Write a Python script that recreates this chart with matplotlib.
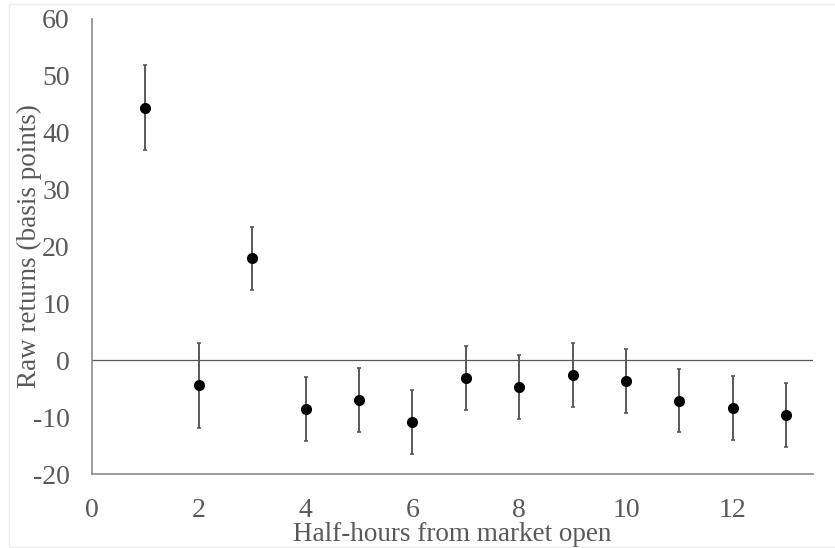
import matplotlib
matplotlib.use('Agg')
import matplotlib.pyplot as plt
from matplotlib.patches import Rectangle

# half-hour intervals after the open, mean raw return and error half-width (bp)
halfhours = [1, 2, 3, 4, 5, 6, 7, 8, 9, 10, 11, 12, 13]
raw_returns = [44.4, -4.4, 17.9, -8.6, -7.0, -10.8, -3.1, -4.7, -2.6, -3.6, -7.1, -8.4, -9.6]
err = [7.5, 7.5, 5.6, 5.6, 5.6, 5.6, 5.6, 5.6, 5.6, 5.6, 5.6, 5.6, 5.6]
xticks = [0, 2, 4, 6, 8, 10, 12]
yticks = [-20, -10, 0, 10, 20, 30, 40, 50, 60]

plt.rcParams['font.family'] = ['Liberation Serif', 'DejaVu Serif']
plt.rcParams['axes.unicode_minus'] = False
txt = '#595959'

fig = plt.figure(figsize=(8.35, 5.48), dpi=100)
ax = fig.add_axes([92/835, 1 - 474/548, (813 - 92)/835, (474 - 19)/548])

ax.axhline(0, color='#595959', lw=0.9, zorder=1)
ax.errorbar(halfhours, raw_returns, yerr=err, fmt='o', color='black', ms=7,
            ecolor='#595959', elinewidth=1.4, capsize=1.6, capthick=1.2, zorder=3)

ax.set_xlim(0, 13.5)
ax.set_ylim(-20, 60)
ax.set_xticks(xticks)
ax.set_yticks(yticks)
ax.tick_params(length=0, labelsize=20, labelcolor=txt)
ax.tick_params(axis='x', pad=17)
ax.tick_params(axis='y', pad=16)

for s in ['top', 'right']:
    ax.spines[s].set_visible(False)
for s in ['left', 'bottom']:
    ax.spines[s].set_color('#8c8c8c')
    ax.spines[s].set_linewidth(1.2)

ax.set_xlabel('Half-hours from market open', fontsize=19.5, color=txt)
ax.set_ylabel('Raw returns (basis points)', fontsize=19.5, color=txt)
ax.xaxis.set_label_coords(0.5, -0.105)
ax.yaxis.set_label_coords(-0.07, 0.5)

# faint frame round the whole chart
fig.patches.append(Rectangle((9/835, 0.002), 1.0, 1 - 4/548 - 0.002, transform=fig.transFigure,
                             fill=False, edgecolor='#ececec', lw=1))

fig.savefig('out.png', dpi=100)
